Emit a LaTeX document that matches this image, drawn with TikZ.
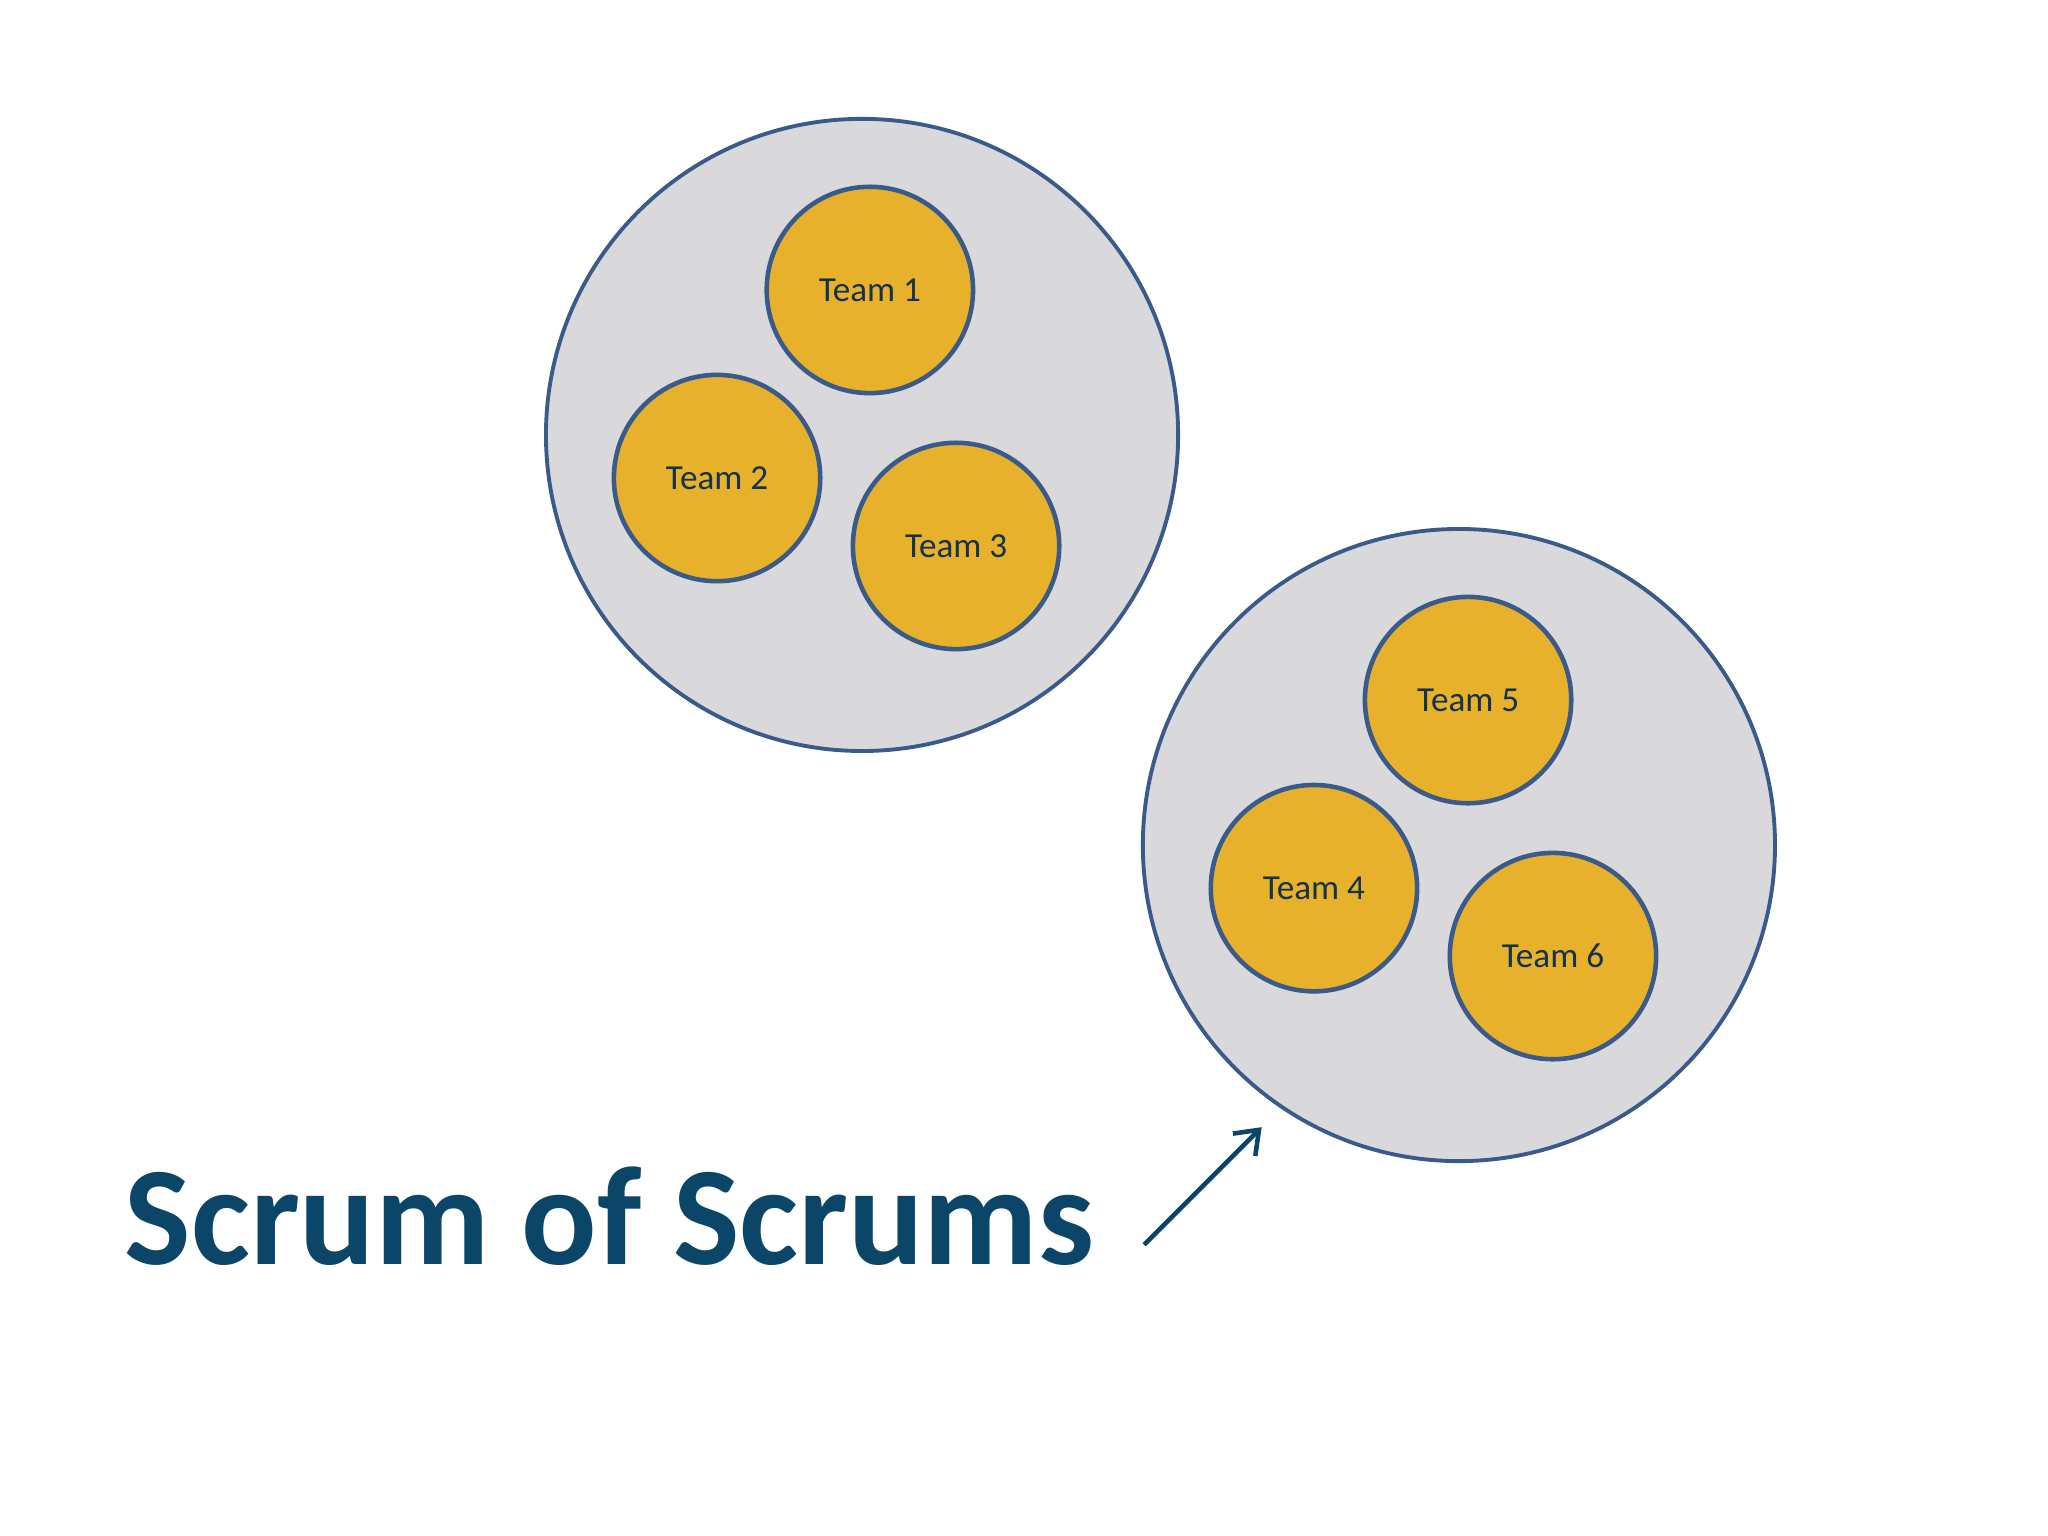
\documentclass[tikz,border=0pt]{standalone}
\usepackage{fontspec}
\usetikzlibrary{arrows.meta}
\setmainfont{Carlito}
\definecolor{bord}{HTML}{3A5A8A}
\definecolor{grp}{HTML}{D9D9DB}
\definecolor{org}{HTML}{E8B12B}
\definecolor{ttl}{HTML}{0B4668}
\definecolor{txt}{HTML}{12324F}
\begin{document}
\begin{tikzpicture}[x=0.01306cm,y=-0.01306cm,
  grp/.style={circle,draw=bord,line width=1.1pt,fill=grp,minimum size=484*0.01306cm,inner sep=0pt},
  team/.style={circle,draw=bord,line width=1.3pt,fill=org,minimum size=158*0.01306cm,inner sep=0pt,text=txt,font=\fontsize{10}{12}\selectfont}]
\useasboundingbox (0,0) rectangle (1568,1176);
\node[grp] (g1) at (660,333) {};
\node[grp] (g2) at (1117,647) {};
\node[team] (t1) at (666,222) {Team 1};
\node[team] (t2) at (549,366) {Team 2};
\node[team] (t3) at (732,418) {Team 3};
\node[team] (t5) at (1124,536) {Team 5};
\node[team] (t4) at (1006,680) {Team 4};
\node[team] (t6) at (1189,732) {Team 6};
\node[anchor=base west,text=ttl,font=\fontsize{40}{48}\selectfont\bfseries,inner sep=0pt] (title) at (95,968) {Scrum of Scrums};
\coordinate (a0) at (876,953);
\coordinate (a1) at (966,863);
\draw[ttl,line width=1.3pt,-{Straight Barb[length=6pt,width=9pt]}] (a0) -- (a1);
\end{tikzpicture}
\end{document}
